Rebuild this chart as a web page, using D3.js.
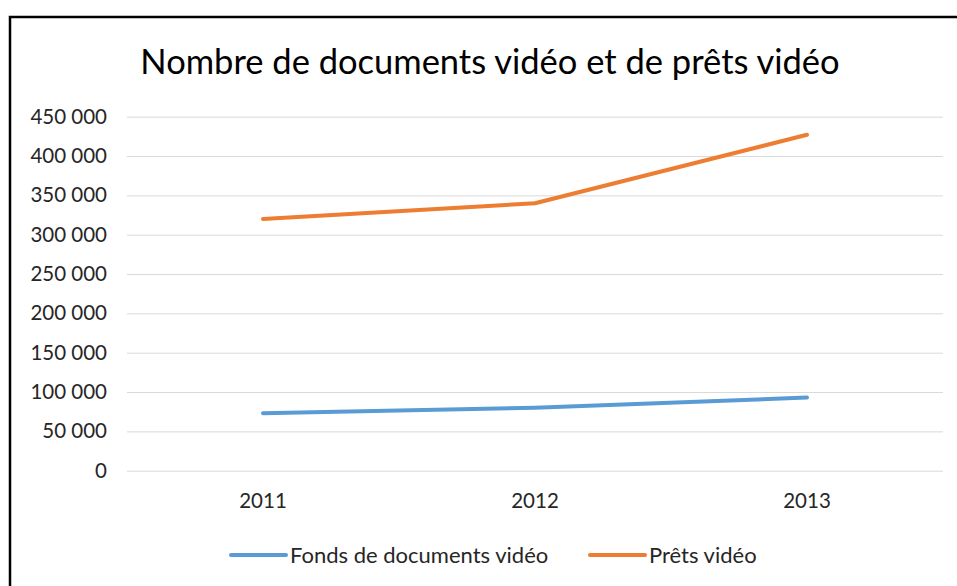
<!DOCTYPE html>
<html>
<head>
<meta charset="utf-8">
<script src="https://cdn.jsdelivr.net/npm/d3@7"></script>
<style>
  body { margin: 0; background: #fff; }
  text { font-family: Lato, "Open Sans", sans-serif; fill: #262626; }
</style>
</head>
<body>
<div id="root"></div>
<script>
const w = 957;
const h = 586;

const years = ["2011", "2012", "2013"];
const fonds = [73000, 80000, 93000];
const prets = [320000, 340000, 427000];
const yTicks = [0, 50000, 100000, 150000, 200000, 250000, 300000, 350000, 400000, 450000];
const seriesNames = ["Fonds de documents vidéo", "Prêts vidéo"];
const colors = ["#5b9bd5", "#ed7d31"];

const frLocale = d3.formatLocale({
  decimal: ",",
  thousands: " ",
  grouping: [3],
  currency: ["", " €"],
});
const fmt = frLocale.format(",");

const svg = d3
  .select("#root")
  .append("svg")
  .attr("width", w)
  .attr("height", h);

// frame (only top and left edges are visible in the picture)
svg
  .append("rect")
  .attr("x", 10)
  .attr("y", 17)
  .attr("width", 980)
  .attr("height", 620)
  .attr("fill", "#fff")
  .attr("stroke", "#000")
  .attr("stroke-width", 2.5);

svg
  .append("text")
  .attr("x", 490)
  .attr("y", 74)
  .attr("text-anchor", "middle")
  .attr("font-size", 34.5)
  .style("fill", "#000")
  .text("Nombre de documents vidéo et de prêts vidéo");

const xScale = d3.scaleBand().domain(years).range([127, 943]);
const yScale = d3.scaleLinear().domain([0, 450000]).range([470.7, 116.7]);
const cx = (d) => xScale(d) + xScale.bandwidth() / 2;

// gridlines + y labels
const yAxis = d3
  .axisLeft(yScale)
  .tickValues(yTicks)
  .tickSize(-(943 - 127))
  .tickPadding(20)
  .tickFormat(fmt);

const gy = svg
  .append("g")
  .attr("transform", "translate(127,0)")
  .call(yAxis);
gy.select(".domain").remove();
gy.selectAll(".tick line").attr("stroke", "#d9d9d9").attr("stroke-width", 1);
gy.selectAll(".tick text")
  .attr("font-size", 20.5)
  .attr("font-family", "Lato")
  .attr("fill", "#262626");

// x labels
const xAxis = d3.axisBottom(xScale).tickSize(0).tickPadding(23);
const gx = svg
  .append("g")
  .attr("transform", "translate(0,470.7)")
  .call(xAxis);
gx.select(".domain").remove();
gx.selectAll(".tick text")
  .attr("font-size", 20.5)
  .attr("font-family", "Lato")
  .attr("fill", "#262626");

const line = d3
  .line()
  .x((d, i) => cx(years[i]))
  .y((d) => yScale(d));

[fonds, prets].forEach((vals, i) => {
  svg
    .append("path")
    .datum(vals)
    .attr("d", line)
    .attr("fill", "none")
    .attr("stroke", colors[i])
    .attr("stroke-width", 4)
    .attr("stroke-linecap", "round")
    .attr("stroke-linejoin", "round");
});

// legend
const legendX = [231, 590];
const legend = svg
  .append("g")
  .selectAll("g")
  .data(seriesNames)
  .join("g")
  .attr("transform", (d, i) => `translate(${legendX[i]},555)`);

legend
  .append("line")
  .attr("x1", 0)
  .attr("x2", 55)
  .attr("stroke", (d, i) => colors[i])
  .attr("stroke-width", 4)
  .attr("stroke-linecap", "round");

legend
  .append("text")
  .attr("x", 59)
  .attr("dy", "0.35em")
  .attr("font-size", 22)
  .text((d) => d);
</script>
</body>
</html>
